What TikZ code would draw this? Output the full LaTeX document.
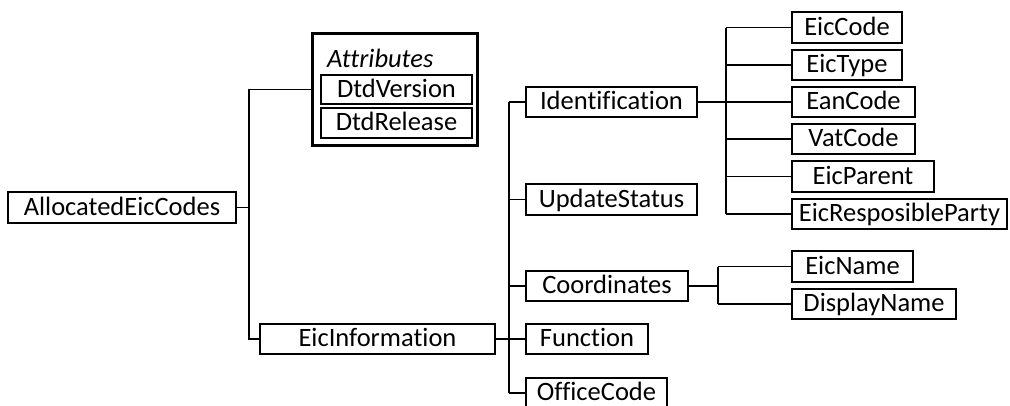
\documentclass[tikz,border=0pt]{standalone}
\usepackage{fontspec}
\setmainfont{Carlito}[Ligatures=NoCommon]
\tikzset{
  x=1pt, y=-1pt,
  elem/.style={draw, line width=2.2pt, inner sep=0pt, align=center,
    font=\fontsize{26.5}{30}\selectfont, text height=17pt, text depth=2pt},
  group/.style={draw, line width=2.6pt, inner sep=0pt},
  link/.style={line width=1.2pt},
  stub/.style={line width=1.8pt},
}
% element box from its corners: name, x1, y1, x2, y2, text
\newcommand{\elembox}[6]{%
  \node[elem, minimum width={#4-#2}, minimum height={#5-#3}]
    (#1) at ({(#2+#4)/2},{(#3+#5)/2}) {#6};}
\begin{document}
\begin{tikzpicture}
\useasboundingbox (0,0) rectangle (1010,405);

% root and first level
\elembox{alloc}{8}{192}{236}{223}{AllocatedEicCodes}
\node[group, minimum width=165pt, minimum height=112pt] (attrs) at (395,89.5) {};
\node[font=\fontsize{26.5}{30}\selectfont\itshape, anchor=base west, inner sep=0pt]
  (attrlabel) at (327,67.5) {Attributes};
\elembox{dtdv}{321}{75}{472}{104}{DtdVersion}
\elembox{dtdr}{321}{108}{472}{138}{DtdRelease}
\elembox{info}{260}{324}{495}{354}{EicInformation}

% children of EicInformation
\elembox{ident}{526}{87}{697}{117}{Identification}
\elembox{upd}{526}{184}{697}{215}{UpdateStatus}
\elembox{coord}{526}{271}{688}{301}{Coordinates}
\elembox{func}{526}{324}{648}{354}{Function}
\elembox{office}{526}{378}{667}{408}{OfficeCode}

% children of Identification
\elembox{eiccode}{792}{12}{902}{43}{EicCode}
\elembox{eictype}{792}{50}{902}{80}{EicType}
\elembox{ean}{792}{87}{915}{117}{EanCode}
\elembox{vat}{792}{124}{915}{154}{VatCode}
\elembox{parent}{792}{161}{934}{192}{EicParent}
\elembox{resp}{792}{199}{1007}{229}{EicResposibleParty}

% children of Coordinates
\elembox{ename}{792}{251}{913}{282}{EicName}
\elembox{dname}{792}{289}{956}{319}{DisplayName}

% junction points
\coordinate (j1) at (249,207.5);
\coordinate (j2) at (509,339);
\coordinate (j3) at (726,102);
\coordinate (j4) at (718,286);

% root branches
\draw[stub] (alloc.east) -- (j1);
\draw[link] (attrs.west) -| (j1) |- (info.west);

% EicInformation branches
\draw[stub] (info.east) -- (j2);
\draw[link] (j2 |- ident.west) -- (j2 |- office.west);
\foreach \c in {ident, upd, coord, func, office}
  \draw[link] (j2 |- \c.west) -- (\c.west);

% Identification branches
\draw[stub] (ident.east) -- (j3);
\draw[link] (j3 |- eiccode.west) -- (j3 |- resp.west);
\foreach \c in {eiccode, eictype, ean, vat, parent, resp}
  \draw[link] (j3 |- \c.west) -- (\c.west);

% Coordinates branches
\draw[stub] (coord.east) -- (j4);
\draw[link] (j4 |- ename.west) -- (j4 |- dname.west);
\foreach \c in {ename, dname}
  \draw[link] (j4 |- \c.west) -- (\c.west);
\end{tikzpicture}
\end{document}
